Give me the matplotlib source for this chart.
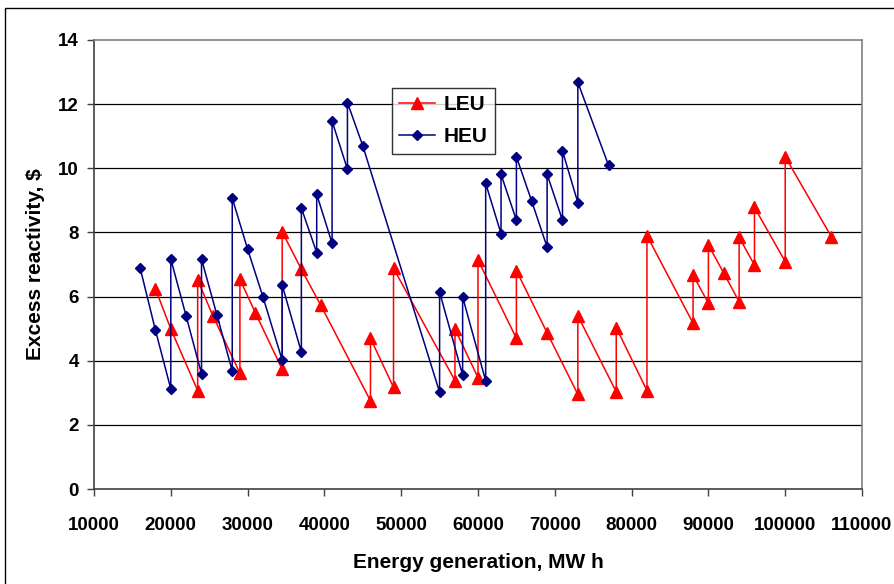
import matplotlib
matplotlib.use("Agg")
import matplotlib.pyplot as plt
from matplotlib.patches import Rectangle

plt.rcParams['font.family'] = ['Liberation Sans', 'DejaVu Sans']

leu_x = [18000, 20000, 23500, 23500, 25500, 29000, 29000, 31000, 34500, 34500,
         37000, 39500, 46000, 46000, 49000, 49000, 57000, 57000, 60000, 60000,
         65000, 65000, 69000, 73000, 73000, 78000, 78000, 82000, 82000, 88000,
         88000, 90000, 90000, 92000, 94000, 94000, 96000, 96000, 100000, 100000,
         106000]
leu_y = [6.24, 4.99, 3.07, 6.52, 5.39, 3.61, 6.54, 5.50, 3.73, 8.02,
         6.85, 5.74, 2.75, 4.70, 3.17, 6.88, 3.38, 4.99, 3.47, 7.14,
         4.70, 6.81, 4.87, 2.95, 5.40, 3.03, 5.03, 3.07, 7.90, 5.17,
         6.67, 5.79, 7.61, 6.73, 5.84, 7.85, 6.98, 8.78, 7.09, 10.36,
         7.87]

heu_x = [16000, 18000, 20000, 20000, 22000, 24000, 24000, 26000, 28000, 28000,
         30000, 32000, 34500, 34500, 37000, 37000, 39000, 39000, 41000, 41000,
         43000, 43000, 45000, 55000, 55000, 58000, 58000, 61000, 61000, 63000,
         63000, 65000, 65000, 67000, 69000, 69000, 71000, 71000, 73000, 73000,
         77000]
heu_y = [6.90, 4.95, 3.12, 7.17, 5.39, 3.59, 7.17, 5.43, 3.68, 9.07,
         7.48, 5.99, 4.02, 6.36, 4.27, 8.76, 7.37, 9.19, 7.66, 11.47,
         9.97, 12.05, 10.70, 3.02, 6.14, 3.55, 5.99, 3.37, 9.53, 7.96,
         9.81, 8.38, 10.36, 8.97, 7.54, 9.81, 8.38, 10.54, 8.93, 12.68,
         10.09]

x_ticks = list(range(10000, 110001, 10000))
y_ticks = list(range(0, 15, 2))

W, H = 894, 584
fig = plt.figure(figsize=(W / 100, H / 100), dpi=100)
ax = fig.add_axes([94 / W, (H - 489) / H, 768 / W, 449 / H])

for y in y_ticks[1:-1]:
    ax.axhline(y, color='black', lw=0.9, zorder=1)

ax.plot(leu_x, leu_y, color='#ff0000', lw=1.1, marker='^', markersize=8,
        markeredgecolor='#ff0000', markerfacecolor='#ff0000', label='LEU', zorder=3)
ax.plot(heu_x, heu_y, color='#000080', lw=1.1, marker='D', markersize=5,
        markeredgecolor='#000080', markerfacecolor='#000080', label='HEU', zorder=4)

ax.set_xlim(10000, 110000)
ax.set_ylim(0, 14)
ax.set_xticks(x_ticks)
ax.set_yticks(y_ticks)
ax.set_xticklabels([str(v) for v in x_ticks], fontsize=13.5, fontweight='bold')
ax.set_yticklabels([str(v) for v in y_ticks], fontsize=13.5, fontweight='bold')
ax.tick_params(axis='both', direction='out', length=5, width=1, color='#404040')
ax.tick_params(axis='x', pad=15)
ax.tick_params(axis='y', pad=6)

for s in ['top', 'right']:
    ax.spines[s].set_color('#808080')
    ax.spines[s].set_linewidth(1.2)
for s in ['left', 'bottom']:
    ax.spines[s].set_color('#404040')
    ax.spines[s].set_linewidth(1.2)

ax.set_xlabel('Energy generation, MW h', fontsize=15, fontweight='bold', labelpad=14)
ax.set_ylabel('Excess reactivity, $', fontsize=15, fontweight='bold', labelpad=9)

leg = ax.legend(loc='upper left', bbox_to_anchor=(0.388, 0.893),
                prop={'weight': 'bold', 'size': 15}, frameon=True, fancybox=False,
                edgecolor='black', handlelength=1.7, borderpad=0.35,
                labelspacing=0.62, handletextpad=0.45, borderaxespad=0)
leg.get_frame().set_linewidth(1.0)
leg.set_zorder(10)

fig.add_artist(Rectangle((5 / W, -0.1), 1.2, (H - 8) / H + 0.1,
                         transform=fig.transFigure, fill=False,
                         edgecolor='black', lw=1.0))

fig.savefig('out.png', dpi=100)
